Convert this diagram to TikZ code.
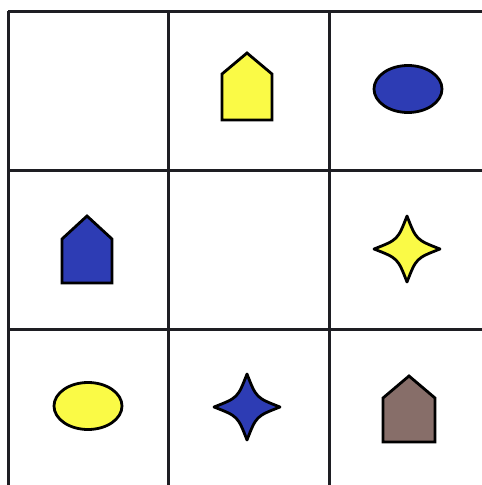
\documentclass[tikz,border=0pt]{standalone}
\begin{document}
\begin{tikzpicture}[x=1pt,y=-1pt,
  gridline/.style={line width=3pt,draw={rgb,255:red,30;green,30;blue,35}},
  shapeline/.style={line width=2.8pt,draw=black,line join=miter},
  pyellow/.style={fill={rgb,255:red,250;green,250;blue,70}},
  pblue/.style={fill={rgb,255:red,45;green,60;blue,180}},
  pbrown/.style={fill={rgb,255:red,135;green,110;blue,105}}]
\useasboundingbox (0,0) rectangle (482,485);
\fill[white] (0,0) rectangle (482,485);
% grid
\foreach \y in {11,170,329} \draw[gridline] (8,\y) -- (482,\y);
\foreach \x in {8,168,329} \draw[gridline] (\x,11) -- (\x,485);
% houses
\newcommand{\myhouse}[6]{%
  \draw[shapeline,#6] (#1-#5,#4) -- (#1-#5,#3) -- (#1,#2) -- (#1+#5,#3) -- (#1+#5,#4) -- cycle;}
\myhouse{247}{53}{74}{120}{25}{pyellow}
\myhouse{87}{216}{239}{283}{25}{pblue}
\myhouse{409}{376}{398}{442}{26}{pbrown}
% ellipses
\draw[shapeline,pblue] (408,89) ellipse [x radius=34, y radius=23.5];
\draw[shapeline,pyellow] (88,406) ellipse [x radius=34, y radius=23.5];
% stars
\newcommand{\mystar}[4]{%
  \draw[shapeline,#4,line join=round]
    (#1,#2-#3) .. controls (#1+0.28*#3,#2-0.28*#3) .. (#1+#3,#2)
    .. controls (#1+0.28*#3,#2+0.28*#3) .. (#1,#2+#3)
    .. controls (#1-0.28*#3,#2+0.28*#3) .. (#1-#3,#2)
    .. controls (#1-0.28*#3,#2-0.28*#3) .. cycle;}
\mystar{407}{249}{33}{pyellow}
\mystar{247}{407}{33}{pblue}
\end{tikzpicture}
\end{document}
